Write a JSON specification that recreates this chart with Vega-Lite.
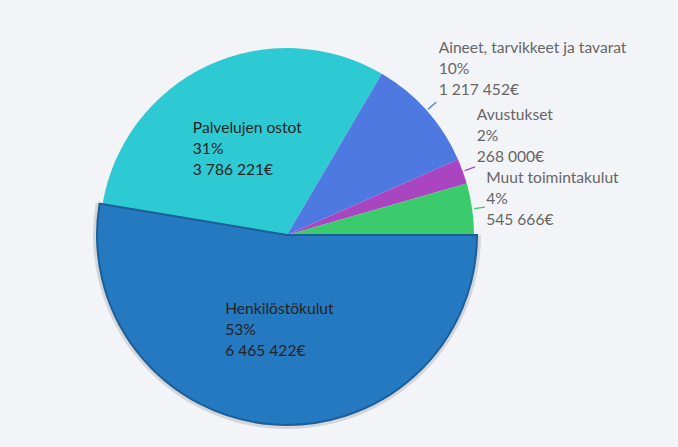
{
  "$schema": "https://vega.github.io/schema/vega-lite/v6.json",
  "width": 574,
  "height": 410,
  "autosize": {"type": "none"},
  "padding": {"left": 0, "top": 30, "right": 104, "bottom": 7},
  "background": "#f3f4f8",
  "view": {"stroke": null},
  "config": {"text": {"font": "Lato"}},
  "data": {"values": [
    {"kat": "Henkilöstökulut", "summa": 6465422, "jarj": 1},
    {"kat": "Palvelujen ostot", "summa": 3786221, "jarj": 2},
    {"kat": "Aineet, tarvikkeet ja tavarat", "summa": 1217452, "jarj": 3},
    {"kat": "Avustukset", "summa": 268000, "jarj": 4},
    {"kat": "Muut toimintakulut", "summa": 545666, "jarj": 5}
  ]},
  "transform": [
    {"stack": "summa", "groupby": [], "sort": [{"field": "jarj"}], "as": ["v0", "v1"]},
    {"joinaggregate": [{"op": "sum", "field": "summa", "as": "total"}]},
    {"calculate": "(datum.v0 + datum.v1) / 2", "as": "mid"},
    {"calculate": "[datum.kat, format(datum.summa / datum.total, '.0%'), replace(format(datum.summa, ','), /,/g, ' ') + '€']", "as": "lbl"}
  ],
  "encoding": {
    "theta": {"field": "v0", "type": "quantitative", "scale": {"domain": [0, 12282761], "range": [1.5707963, 7.8539816], "zero": true, "nice": false}}
  },
  "layer": [
    {
      "transform": [{"filter": "datum.jarj === 1"}],
      "mark": {"type": "arc", "radius": 194, "fill": "#d2d3d6", "opacity": 0.9},
      "encoding": {"theta2": {"field": "v1"}}
    },
    {
      "transform": [{"filter": "datum.jarj !== 1"}],
      "mark": {"type": "arc", "radius": 187},
      "encoding": {
        "theta2": {"field": "v1"},
        "color": {"field": "kat", "type": "nominal", "legend": null,
          "scale": {"domain": ["Henkilöstökulut", "Palvelujen ostot", "Aineet, tarvikkeet ja tavarat", "Avustukset", "Muut toimintakulut"],
                    "range": ["#2479c0", "#2ecad3", "#4e79e1", "#aa45c2", "#3ccb6c"]}}
      }
    },
    {
      "transform": [{"filter": "datum.jarj === 1"}],
      "mark": {"type": "arc", "radius": 190, "stroke": "#1b5f9b", "strokeWidth": 2},
      "encoding": {
        "theta2": {"field": "v1"},
        "color": {"field": "kat", "type": "nominal", "legend": null}
      }
    },
    {
      "transform": [{"filter": "datum.jarj >= 3"}],
      "mark": {"type": "arc", "radius": 189, "radius2": 200, "strokeWidth": 1.2},
      "encoding": {
        "theta": {"field": "mid", "type": "quantitative"},
        "theta2": {"field": "mid"},
        "stroke": {"field": "kat", "type": "nominal", "legend": null,
          "scale": {"domain": ["Henkilöstökulut", "Palvelujen ostot", "Aineet, tarvikkeet ja tavarat", "Avustukset", "Muut toimintakulut"],
                    "range": ["#2479c0", "#2ecad3", "#4e79e1", "#aa45c2", "#3ccb6c"]}}
      }
    },
    {
      "transform": [{"filter": "datum.jarj <= 2"}],
      "mark": {"type": "text", "radius": 95, "align": "left", "baseline": "middle", "dx": -54, "dy": -21, "fontSize": 15.6, "lineHeight": 21, "color": "#252423"},
      "encoding": {
        "theta": {"field": "mid", "type": "quantitative"},
        "text": {"field": "lbl"}
      }
    },
    {
      "transform": [{"filter": "datum.jarj === 3"}],
      "mark": {"type": "text", "radius": 187, "align": "left", "baseline": "middle", "dx": 12, "dy": -63, "fontSize": 15.6, "lineHeight": 21, "color": "#666666"},
      "encoding": {
        "theta": {"field": "mid", "type": "quantitative"},
        "text": {"field": "lbl"}
      }
    },
    {
      "transform": [{"filter": "datum.jarj === 4"}],
      "mark": {"type": "text", "radius": 187, "align": "left", "baseline": "middle", "dx": 14, "dy": -56, "fontSize": 15.6, "lineHeight": 21, "color": "#666666"},
      "encoding": {
        "theta": {"field": "mid", "type": "quantitative"},
        "text": {"field": "lbl"}
      }
    },
    {
      "transform": [{"filter": "datum.jarj === 5"}],
      "mark": {"type": "text", "radius": 187, "align": "left", "baseline": "middle", "dx": 14, "dy": -31, "fontSize": 15.6, "lineHeight": 21, "color": "#666666"},
      "encoding": {
        "theta": {"field": "mid", "type": "quantitative"},
        "text": {"field": "lbl"}
      }
    }
  ]
}
